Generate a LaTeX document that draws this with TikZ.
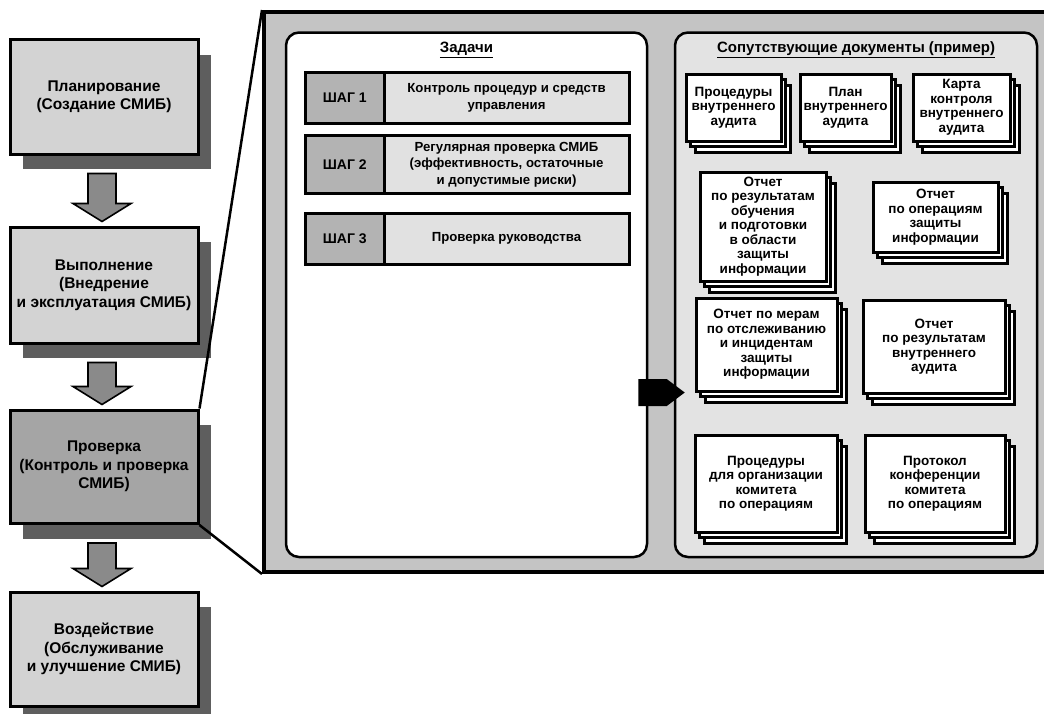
\documentclass[tikz,border=0pt]{standalone}
\usepackage{fontspec}
\setmainfont{Liberation Sans}
\usetikzlibrary{shadows,calc}

\definecolor{panelgray}{HTML}{C4C4C4}
\definecolor{docsgray}{HTML}{E3E3E3}
\definecolor{stagelight}{HTML}{D3D3D3}
\definecolor{stagedark}{HTML}{A5A5A5}
\definecolor{shadowgray}{HTML}{5E5E5E}
\definecolor{arrowgray}{HTML}{8A8A8A}
\definecolor{steplabel}{HTML}{B3B3B3}
\definecolor{steptext}{HTML}{E1E1E1}

\tikzset{
  box/.style={draw=black, inner sep=0pt, align=center},
  stage/.style={box, line width=3pt,
    font=\fontsize{15.5}{18.5}\selectfont\bfseries,
    drop shadow={shadow xshift=13pt, shadow yshift=-15pt, fill=shadowgray, opacity=1}},
  garrow/.style={draw=black, line width=1.6pt, fill=arrowgray, line join=miter},
  outerpanel/.style={box, line width=4pt, fill=panelgray},
  innerpanel/.style={box, line width=2.5pt, rounded corners=13pt},
  paneltitle/.style={font=\fontsize{15}{17}\selectfont\bfseries},
  steplbl/.style={box, line width=3pt, fill=steplabel, font=\fontsize{14}{16}\selectfont\bfseries},
  steptxt/.style={box, line width=3pt, fill=steptext, font=\fontsize{13.2}{16.5}\selectfont\bfseries},
  docbox/.style={box, line width=3pt, fill=white,
    font=\fontsize{13.5}{14.5}\selectfont\bfseries,
    double copy shadow={shadow xshift=4.5pt, shadow yshift=-5.5pt, fill=white, draw=black, line width=3pt}},
}

% rectangular node given by its corners: style, name, x1, y1, x2, y2, text
\newcommand\rectnode[7]{%
  \node[#1, minimum width={#5-#3}, minimum height={#6-#4}] (#2)
    at ({(#3+#5)/2},{(#4+#6)/2}) {#7};}

% block arrow pointing down from one stage to the next
\newcommand\stagearrow[2]{%
  \draw[garrow] let \p1=(#1.south), \p2=(#2.north) in
    (\x1-16pt,\y1-18pt) -- (\x1+12pt,\y1-18pt) -- (\x1+12pt,\y2+22pt) --
    (\x1+27pt,\y2+22pt) -- (\x1-2pt,\y2+4pt) -- (\x1-31pt,\y2+22pt) --
    (\x1-16pt,\y2+22pt) -- cycle;}

\begin{document}
\begin{tikzpicture}[x=1pt,y=-1pt]
\useasboundingbox (0,0) rectangle (1044,713);
\clip (0,0) rectangle (1044,713);
\fill[white] (0,0) rectangle (1044,713);

% PDCA stages
\rectnode{stage, fill=stagelight}{plan}{10}{39.5}{198}{154}
  {Планирование\\(Создание СМИБ)}
\rectnode{stage, fill=stagelight}{do}{10}{227}{198}{343}
  {Выполнение\\(Внедрение\\и эксплуатация СМИБ)}
\rectnode{stage, fill=stagedark}{check}{10}{410}{198}{523.5}
  {Проверка\\(Контроль и проверка\\СМИБ)}
\rectnode{stage, fill=stagelight}{act}{10}{592}{198}{706}
  {Воздействие\\(Обслуживание\\и улучшение СМИБ)}

\stagearrow{plan}{do}
\stagearrow{do}{check}
\stagearrow{check}{act}

% detail panel of the check stage
\rectnode{outerpanel}{panel}{264}{12}{1080}{572}{}
\draw[line width=2.5pt] (check.north east) -- (panel.north west);
\draw[line width=2.5pt] (check.south east) -- (panel.south west);

\rectnode{innerpanel, fill=white}{tasks}{286}{32.5}{647}{557}{}
\rectnode{innerpanel, fill=docsgray}{docs}{675}{32.5}{1037}{557}{}

\node[paneltitle] (taskstitle) at (466.5,50) {\underline{Задачи}};
\node[paneltitle] (docstitle) at (856,50) {\underline{Сопутствующие документы (пример)}};

% steps
\rectnode{steplbl}{s1}{305.5}{72.5}{384}{123.5}{ШАГ 1}
\rectnode{steptxt}{t1}{384}{72.5}{629}{123.5}{Контроль процедур и средств\\управления}
\rectnode{steplbl}{s2}{305.5}{135.5}{384}{193.5}{ШАГ 2}
\rectnode{steptxt}{t2}{384}{135.5}{629}{193.5}{Регулярная проверка СМИБ\\(эффективность, остаточные\\и допустимые риски)}
\rectnode{steplbl}{s3}{305.5}{213.5}{384}{264}{ШАГ 3}
\rectnode{steptxt}{t3}{384}{213.5}{629}{264}{Проверка руководства}

% accompanying documents
\rectnode{docbox}{d1}{686}{74}{781}{141}{Процедуры\\внутреннего\\аудита}
\rectnode{docbox}{d2}{800}{74}{891}{141}{План\\внутреннего\\аудита}
\rectnode{docbox}{d3}{913}{74}{1010}{141}{Карта\\контроля\\внутреннего\\аудита}
\rectnode{docbox}{d4}{700}{172}{826}{281}{Отчет\\по результатам\\обучения\\и подготовки\\в области\\защиты\\информации}
\rectnode{docbox}{d5}{873}{182}{998}{252}{Отчет\\по операциям\\защиты\\информации}
\rectnode{docbox}{d6}{696}{298}{837}{391}{Отчет по мерам\\по отслеживанию\\и инцидентам\\защиты\\информации}
\rectnode{docbox}{d7}{863}{300}{1005}{393}{Отчет\\по результатам\\внутреннего\\аудита}
\rectnode{docbox}{d8}{695}{435}{837}{532}{Процедуры\\для организации\\комитета\\по операциям}
\rectnode{docbox}{d9}{865}{435}{1005}{532}{Протокол\\конференции\\комитета\\по операциям}

% link from the tasks to their documents
\fill[black] let \p1=(tasks.east), \p2=(docs.west) in
  (\x1-10pt,-379pt) -- (\x2-7pt,-379pt) -- (\x2+11pt,-392.5pt) --
  (\x2-7pt,-406pt) -- (\x1-10pt,-406pt) -- cycle;
\end{tikzpicture}
\end{document}
